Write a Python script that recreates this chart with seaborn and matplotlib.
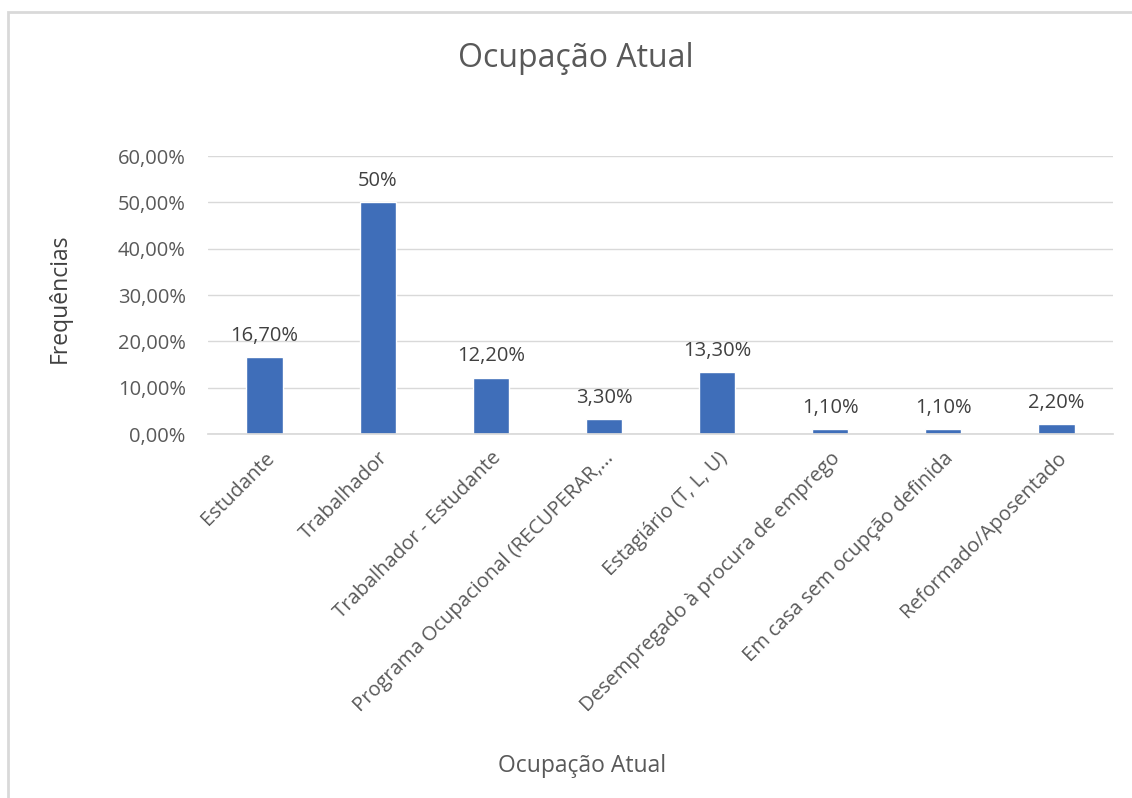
import matplotlib
matplotlib.use("Agg")

import pandas as pd
import matplotlib.pyplot as plt
import seaborn as sns
from matplotlib.patches import Rectangle
from matplotlib.ticker import FuncFormatter

# Data
categorias = [
    "Estudante",
    "Trabalhador",
    "Trabalhador - Estudante",
    "Programa Ocupacional (RECUPERAR,...",
    "Estagiário (T, L, U)",
    "Desempregado à procura de emprego",
    "Em casa sem ocupção definida",
    "Reformado/Aposentado",
]
frequencias = [0.167, 0.50, 0.122, 0.033, 0.133, 0.011, 0.011, 0.022]
rotulos = ["16,70%", "50%", "12,20%", "3,30%", "13,30%", "1,10%", "1,10%", "2,20%"]
y_ticks = [0.0, 0.1, 0.2, 0.3, 0.4, 0.5, 0.6]

df = pd.DataFrame({"Ocupacao": categorias, "Freq": frequencias})

sns.set_theme(style="white")
plt.rcParams["font.family"] = ["Open Sans", "DejaVu Sans"]

cinza = "#595959"
azul = "#3F6EB9"

fig = plt.figure(figsize=(11.32, 7.98), dpi=100)
ax = fig.add_axes([0.1837, 0.456, 0.7995, 0.3484])

sns.barplot(data=df, x="Ocupacao", y="Freq", color=azul, width=0.32,
            saturation=1, ax=ax)

ax.set_ylim(0, 0.6)
ax.set_yticks(y_ticks)
ax.yaxis.set_major_formatter(FuncFormatter(lambda v, p: f"{v*100:.2f}%".replace(".", ",")))
ax.grid(axis="y", color="#d9d9d9", linewidth=1)
ax.set_axisbelow(True)
for s in ["top", "right", "left"]:
    ax.spines[s].set_visible(False)
ax.spines["bottom"].set_color("#d9d9d9")

ax.tick_params(axis="both", length=0, colors=cinza, labelsize=14.5)
ax.tick_params(axis="y", pad=16)
ax.tick_params(axis="x", pad=10)
plt.setp(ax.get_xticklabels(), rotation=45, ha="right", rotation_mode="anchor")

for cont in ax.containers:
    ax.bar_label(cont, labels=rotulos, padding=8, color="#404040", fontsize=14.5)

ax.set_xlabel("Ocupação Atual", color=cinza, fontsize=16.5)
ax.xaxis.label.set_va("center")
ax.xaxis.set_label_coords(0.413, -1.194)
ax.set_ylabel("Frequências", color="#404040", fontsize=16.5)
ax.yaxis.set_label_coords(-0.15, 0.49)

fig.suptitle("Ocupação Atual", x=0.509, y=0.927, va="center", color=cinza, fontsize=23)

# chart border (cut off right and bottom, like the screenshot)
fig.patches.append(Rectangle((8 / 1132, -0.1), 1.2, 1.1 - 12 / 798,
                             transform=fig.transFigure, fill=False,
                             edgecolor="#d9d9d9", linewidth=2))

fig.savefig("out.png", dpi=100, facecolor="white")
